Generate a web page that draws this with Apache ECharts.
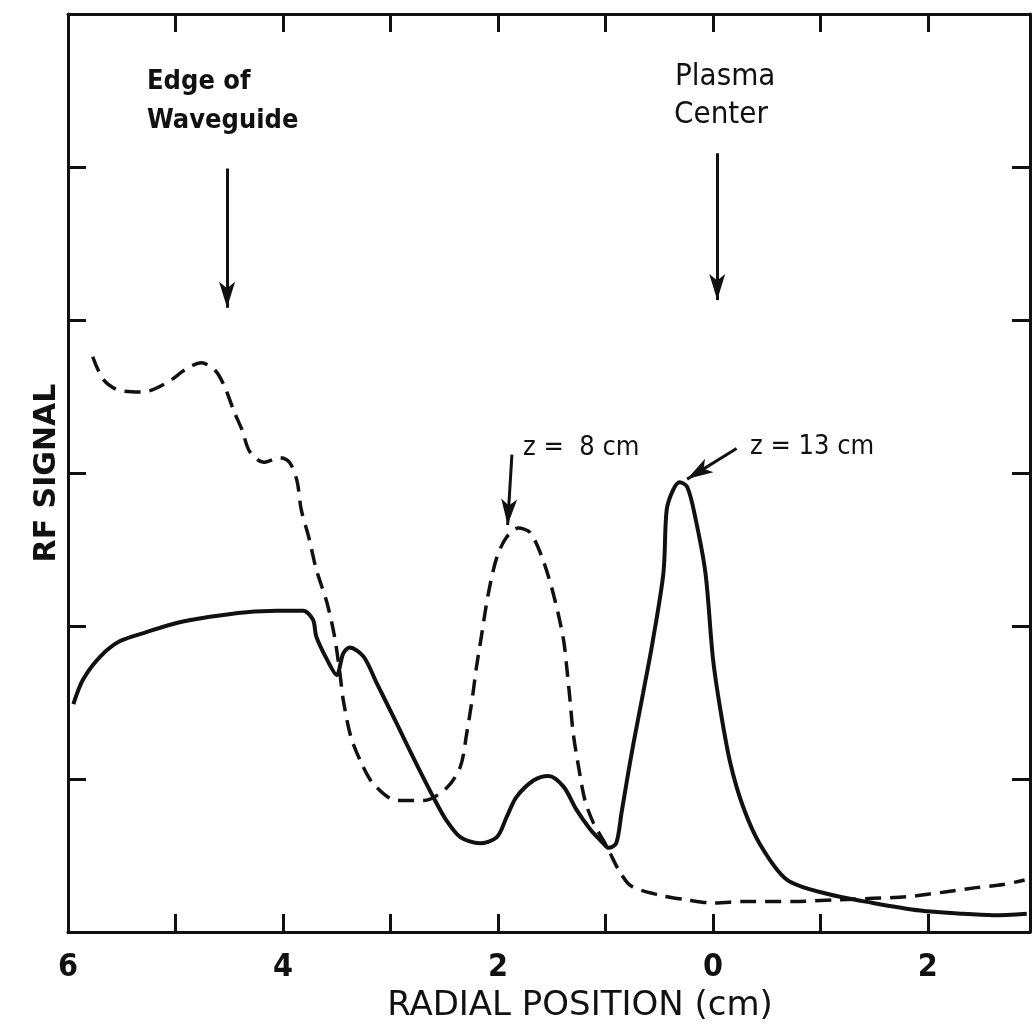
<!DOCTYPE html>
<html>
<head>
<meta charset="utf-8">
<script src="https://cdn.jsdelivr.net/npm/echarts@6/dist/echarts.min.js"></script>
<style>
  html, body { margin: 0; padding: 0; background: #fff; }
  #chart { width: 1036px; height: 1032px; }
</style>
</head>
<body>
<div id="chart"></div>
<script>
// radial position in cm (negative = left side of the plasma center)
const z8Pos = [-5.77, -5.67, -5.52, -5.30, -5.08, -4.90, -4.76, -4.63, -4.54, -4.46, -4.38, -4.31, -4.18, -4.03, -3.94, -3.87,
  -3.83, -3.76, -3.69, -3.59, -3.52, -3.47, -3.44, -3.37, -3.28, -3.16, -2.94, -2.69, -2.48, -2.35, -2.29, -2.24,
  -2.20, -2.15, -2.09, -2.01, -1.92, -1.81, -1.70, -1.58, -1.47, -1.39, -1.36, -1.33, -1.30, -1.25, -1.19, -1.11,
  -1.02, -0.96, -0.88, -0.76, -0.49, -0.24, 0.00, 0.31, 0.75, 1.15, 1.49, 1.80, 2.14, 2.45, 2.70, 2.90]
const z8Signal = [3.76, 3.61, 3.54, 3.53, 3.59, 3.68, 3.72, 3.67, 3.56, 3.41, 3.28, 3.14, 3.07, 3.10, 3.07, 2.95,
  2.76, 2.58, 2.37, 2.15, 1.93, 1.69, 1.52, 1.28, 1.12, 0.97, 0.86, 0.86, 0.94, 1.08, 1.30, 1.52,
  1.73, 1.95, 2.21, 2.45, 2.58, 2.64, 2.61, 2.43, 2.17, 1.91, 1.73, 1.52, 1.30, 1.08, 0.86, 0.71,
  0.60, 0.52, 0.41, 0.30, 0.24, 0.21, 0.19, 0.20, 0.20, 0.21, 0.22, 0.23, 0.26, 0.29, 0.31, 0.34]

const z13Pos = [-5.95, -5.86, -5.70, -5.52, -5.27, -4.99, -4.68, -4.34, -4.06, -3.81, -3.72, -3.69, -3.59, -3.50, -3.44, -3.38,
  -3.25, -3.13, -2.94, -2.76, -2.60, -2.48, -2.35, -2.17, -2.01, -1.92, -1.83, -1.67, -1.53, -1.39, -1.27, -1.14,
  -1.02, -0.97, -0.90, -0.85, -0.80, -0.74, -0.65, -0.56, -0.46, -0.43, -0.37, -0.31, -0.24, -0.17, -0.07, 0.00,
  0.07, 0.16, 0.28, 0.44, 0.69, 1.06, 1.49, 1.93, 2.30, 2.61, 2.92]
const z13Signal = [1.49, 1.65, 1.80, 1.90, 1.96, 2.02, 2.06, 2.09, 2.10, 2.10, 2.04, 1.93, 1.78, 1.68, 1.82, 1.86,
  1.80, 1.63, 1.36, 1.10, 0.88, 0.73, 0.62, 0.58, 0.62, 0.75, 0.88, 0.99, 1.02, 0.95, 0.80, 0.67,
  0.58, 0.55, 0.58, 0.78, 0.99, 1.23, 1.56, 1.90, 2.35, 2.76, 2.89, 2.94, 2.91, 2.73, 2.35, 1.79,
  1.45, 1.11, 0.82, 0.57, 0.34, 0.25, 0.19, 0.14, 0.12, 0.11, 0.12]

const xMin = -6
const xMax = 2.95
const xStep = 1
const yMin = 0
const yMax = 6

const ink = '#111'
const font = '"DejaVu Sans Condensed", "Liberation Sans Narrow", "DejaVu Sans", sans-serif'
const wideFont = '"DejaVu Sans", sans-serif'

const zip = (xs, ys) => xs.map((x, i) => [x, ys[i]])

const xAxisBase = {
  type: 'value',
  min: xMin,
  max: xMax,
  interval: xStep,
  splitLine: { show: false },
  axisLine: { show: true, onZero: false, lineStyle: { color: ink, width: 3 } },
  axisTick: { show: true, inside: true, length: 18, lineStyle: { color: ink, width: 3 } }
}
const yAxisBase = {
  type: 'value',
  min: yMin,
  max: yMax,
  interval: 1,
  splitLine: { show: false },
  axisLabel: { show: false },
  axisLine: { show: true, onZero: false, lineStyle: { color: ink, width: 3 } },
  axisTick: { show: true, inside: true, length: 18, lineStyle: { color: ink, width: 3 } }
}

const lineText = (text, x, y, size, weight) => ({
  type: 'text',
  left: x,
  top: y - size * 0.6,
  style: { text: text, font: weight + ' ' + size + 'px ' + font, fill: ink }
})

const chart = echarts.init(document.getElementById('chart'))
chart.setOption({
  backgroundColor: '#fff',
  animation: false,
  grid: { left: 68, right: 6, top: 14, bottom: 100 },
  xAxis: [
    Object.assign({}, xAxisBase, {
      position: 'bottom',
      name: 'RADIAL POSITION (cm)',
      nameLocation: 'middle',
      nameGap: 52,
      nameTextStyle: { color: ink, fontSize: 34, fontFamily: wideFont, padding: [0, 0, 0, 62] },
      axisLabel: {
        show: true,
        margin: 20,
        color: ink,
        fontSize: 32,
        fontWeight: 'bold',
        fontFamily: font,
        showMaxLabel: false,
        formatter: v => (Math.abs(Math.round(v) - v) < 1e-6 && Math.round(v) % 2 === 0) ? String(Math.abs(Math.round(v))) : ''
      }
    }),
    Object.assign({}, xAxisBase, { position: 'top', axisLabel: { show: false } })
  ],
  yAxis: [
    Object.assign({}, yAxisBase, {
      position: 'left',
      name: 'RF SIGNAL',
      nameLocation: 'middle',
      nameGap: 6,
      nameRotate: 90,
      nameTextStyle: { color: ink, fontSize: 30, fontWeight: 'bold', fontFamily: wideFont }
    }),
    Object.assign({}, yAxisBase, { position: 'right' })
  ],
  series: [
    {
      name: 'z = 8 cm',
      type: 'line',
      data: zip(z8Pos, z8Signal),
      showSymbol: false,
      smooth: 0.3,
      lineStyle: { color: ink, width: 3.5, type: [16, 9] },
      markLine: {
        silent: true,
        symbol: ['none', 'arrow'],
        symbolSize: [12, 26],
        label: { show: false },
        lineStyle: { color: ink, width: 3, type: 'solid' },
        data: [
          [{ coord: [-4.52, 4.99] }, { coord: [-4.52, 4.08] }],
          [{ coord: [0.04, 5.09] }, { coord: [0.04, 4.13] }],
          [{ coord: [-1.87, 3.12] }, { coord: [-1.91, 2.66], lineStyle: { curveness: -0.18 } }],
          [{ coord: [0.22, 3.16] }, { coord: [-0.24, 2.96], lineStyle: { curveness: -0.3 } }]
        ]
      }
    },
    {
      name: 'z = 13 cm',
      type: 'line',
      data: zip(z13Pos, z13Signal),
      showSymbol: false,
      smooth: 0.3,
      lineStyle: { color: ink, width: 4, type: 'solid' }
    }
  ],
  graphic: [
    lineText('Edge of', 147, 85, 27, 'bold'),
    lineText('Waveguide', 147, 124, 27, 'bold'),
    lineText('Plasma', 675, 80, 31, 'normal'),
    lineText('Center', 674, 118, 31, 'normal'),
    lineText('z =  8 cm', 523, 451, 27, 'normal'),
    lineText('z = 13 cm', 750, 450, 27, 'normal')
  ]
})
</script>
</body>
</html>
